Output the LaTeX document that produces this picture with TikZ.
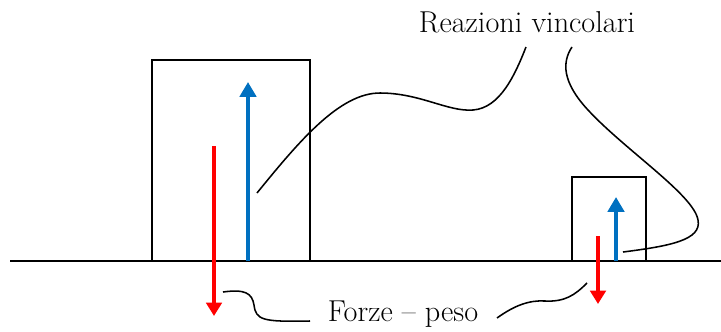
\documentclass[tikz,border=0pt]{standalone}
\usepackage{tikz}
\usetikzlibrary{arrows.meta}

\definecolor{vblue}{RGB}{0,112,192}
\tikzset{
  corpo/.style={line width=1.4pt},
  reazione/.style={vblue,line width=2.8pt,-{Triangle[width=11.5pt,length=10.5pt]}},
  peso/.style={red,line width=2.8pt,-{Triangle[width=11pt,length=9.5pt]}},
  richiamo/.style={line width=1.1pt},
  etichetta/.style={font=\fontsize{21.5}{25}\selectfont,inner sep=0pt}
}

\begin{document}
\begin{tikzpicture}[x=0.025cm,y=-0.025cm]
\useasboundingbox (0,0) rectangle (721,331);
\draw[corpo] (10,261)--(721,261);
\draw[corpo] (152,261)--(152,60)--(310,60)--(310,261);
\draw[corpo] (572,261)--(572,177)--(646,177)--(646,261);
\coordinate (RA0) at (248,261);
\coordinate (RA1) at (248,82);
\coordinate (PA0) at (214,146);
\coordinate (PA1) at (214,316);
\coordinate (RB0) at (616,261);
\coordinate (RB1) at (616,197);
\coordinate (PB0) at (598,236);
\coordinate (PB1) at (598,304);
\draw[reazione] (RA0)--(RA1);
\draw[peso] (PA0)--(PA1);
\draw[reazione] (RB0)--(RB1);
\draw[peso] (PB0)--(PB1);
\node[etichetta] (reazioni) at (527,22) {Reazioni vincolari};
\node[etichetta] (forze) at (403,314) {Forze -- peso};
\coordinate (ra) at (257,193);
\coordinate (rb) at (623,252);
\coordinate (pa) at (223,292);
\coordinate (pb) at (587,283);
\coordinate (r1) at (526,47);
\coordinate (r2) at (572,47);
\coordinate (f1) at (310,321);
\coordinate (f2) at (497,318);
\draw[richiamo] (ra) .. controls (300,140) and (340,93) .. (380,93)
  .. controls (420,93) and (448,112) .. (473,110)
  .. controls (500,108) and (515,75) .. (r1);
\draw[richiamo] (rb) .. controls (670,246) and (702,240) .. (698,220)
  .. controls (694,195) and (625,150) .. (588,110)
  .. controls (562,82) and (562,62) .. (r2);
\draw[richiamo] (pa) .. controls (245,289) and (252,293) .. (254,305)
  .. controls (256,320) and (262,322) .. (f1);
\draw[richiamo] (f2) .. controls (515,305) and (530,300) .. (545,301)
  .. controls (565,302) and (575,295) .. (pb);
\end{tikzpicture}
\end{document}
